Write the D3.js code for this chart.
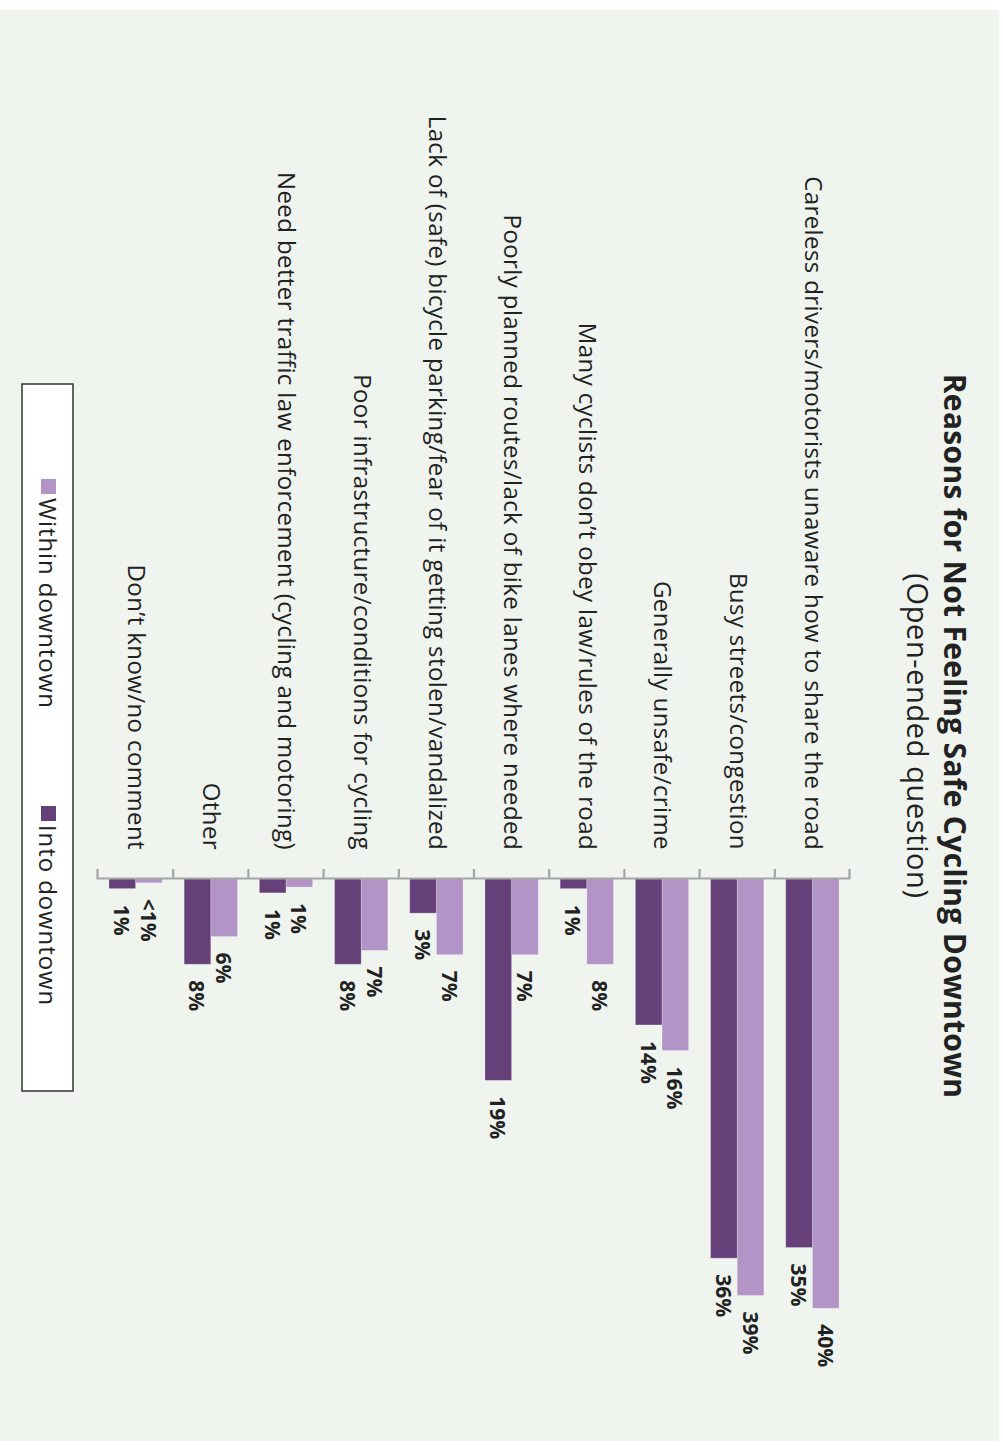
<!DOCTYPE html>
<html>
<head>
<meta charset="utf-8">
<script src="https://cdn.jsdelivr.net/npm/d3@7"></script>
<style>
  html, body { margin: 0; padding: 0; background: #ffffff; }
  svg { display: block; }
</style>
</head>
<body>
<svg id="chart" width="1003" height="1446"></svg>
<script>
// ---- data ----
const categories = [
  "Careless drivers/motorists unaware how to share the road",
  "Busy streets/congestion",
  "Generally unsafe/crime",
  "Many cyclists don\u2019t obey law/rules of the road",
  "Poorly planned routes/lack of bike lanes where needed",
  "Lack of (safe) bicycle parking/fear of it getting stolen/vandalized",
  "Poor infrastructure/conditions for cycling",
  "Need better traffic law enforcement (cycling and motoring)",
  "Other",
  "Don\u2019t know/no comment"
];
const seriesNames = ["Within downtown", "Into downtown"];
const withinValues = [40.4, 39.2, 16.2, 8.1, 7.2, 7.2, 6.8, 0.85, 5.5, 0.45];
const intoValues   = [34.7, 35.7, 13.8, 1.0, 19.0, 3.3, 8.1, 1.4, 8.1, 1.0];
const withinLabels = ["40%", "39%", "16%", "8%", "7%", "7%", "7%", "1%", "6%", "<1%"];
const intoLabels   = ["35%", "36%", "14%", "1%", "19%", "3%", "8%", "1%", "8%", "1%"];
const titleText = "Reasons for Not Feeling Safe Cycling Downtown";
const subtitleText = "(Open-ended question)";

const colors = { "Within downtown": "#b394c6", "Into downtown": "#654079" };
const FONT = "'Open Sans', 'Noto Sans', sans-serif";

const svg = d3.select("#chart");
// page background panel
svg.append("rect").attr("x", 0).attr("y", 10).attr("width", 999).attr("height", 1431).attr("fill", "#eff5ee");

// rotated chart group (chart drawn in its own 1446 x 1003 frame, turned 90deg clockwise)
const g = svg.append("g").attr("transform", "translate(1003,0) rotate(90)");

const axisX = 878;
const y = d3.scaleBand().domain(categories).range([153, 905]).padding(0);
const ySeries = d3.scaleBand().domain(seriesNames).range([0, y.bandwidth()]).paddingInner(0).paddingOuter(0.41);
const x = d3.scaleLinear().domain([0, 40]).range([axisX, axisX + 426]);

const rows = categories.map((c, i) => ({
  cat: c,
  vals: [
    { s: "Within downtown", v: withinValues[i], label: withinLabels[i] },
    { s: "Into downtown", v: intoValues[i], label: intoLabels[i] }
  ]
}));

// bars
const cg = g.selectAll("g.cat").data(rows).join("g")
  .attr("class", "cat")
  .attr("transform", d => `translate(0,${y(d.cat)})`);

cg.selectAll("rect").data(d => d.vals).join("rect")
  .attr("x", x(0))
  .attr("y", d => ySeries(d.s))
  .attr("width", d => x(d.v) - x(0))
  .attr("height", ySeries.bandwidth())
  .attr("fill", d => colors[d.s])
  .attr("stroke", "rgba(255,255,255,0.35)")
  .attr("stroke-width", 0.8);

cg.selectAll("text.val").data(d => d.vals).join("text")
  .attr("class", "val")
  .attr("x", d => x(d.v) + 16)
  .attr("y", d => ySeries(d.s) + ySeries.bandwidth() / 2)
  .attr("dominant-baseline", "central")
  .attr("font-family", FONT)
  .attr("font-weight", "bold")
  .attr("font-size", 21)
  .attr("fill", "#222")
  .text(d => d.label);

// category axis
const axis = d3.axisLeft(y).tickSize(0).tickSizeOuter(9).tickPadding(28);
const axG = g.append("g").attr("transform", `translate(${axisX},0)`).call(axis);
axG.select(".domain").attr("stroke", "#a3a6a6").attr("stroke-width", 2.2);
axG.selectAll(".tick text")
  .attr("font-family", FONT)
  .attr("font-size", 24)
  .attr("letter-spacing", 0.4)
  .attr("fill", "#222");
// boundary ticks between categories
axG.selectAll("line.sep").data(categories.slice(1)).join("line")
  .attr("class", "sep")
  .attr("x1", -9).attr("x2", 0)
  .attr("y1", d => y(d)).attr("y2", d => y(d))
  .attr("stroke", "#a3a6a6").attr("stroke-width", 2.2);

// title
g.append("text").attr("x", 736).attr("y", 59)
  .attr("text-anchor", "middle")
  .attr("font-family", FONT).attr("font-weight", "bold").attr("font-size", 30)
  .attr("letter-spacing", 0.3)
  .attr("fill", "#222").text(titleText);
g.append("text").attr("x", 736).attr("y", 96)
  .attr("text-anchor", "middle")
  .attr("font-family", FONT).attr("font-size", 29)
  .attr("letter-spacing", 0.6)
  .attr("fill", "#222").text(subtitleText);

// legend
const lg = g.append("g");
lg.append("rect").attr("x", 384).attr("y", 930).attr("width", 707).attr("height", 51)
  .attr("fill", "#ffffff").attr("stroke", "#333").attr("stroke-width", 1.5);
const legX = d3.scalePoint().domain(seriesNames).range([479, 806]);
const li = lg.selectAll("g.li").data(seriesNames).join("g").attr("class", "li")
  .attr("transform", d => `translate(${legX(d)},947)`);
li.append("rect").attr("width", 15).attr("height", 15).attr("fill", d => colors[d]);
li.append("text").attr("x", 19).attr("y", 8).attr("dominant-baseline", "central")
  .attr("font-family", FONT).attr("font-size", 24).attr("letter-spacing", 0.9)
  .attr("fill", "#222").text(d => d);
</script>
</body>
</html>
